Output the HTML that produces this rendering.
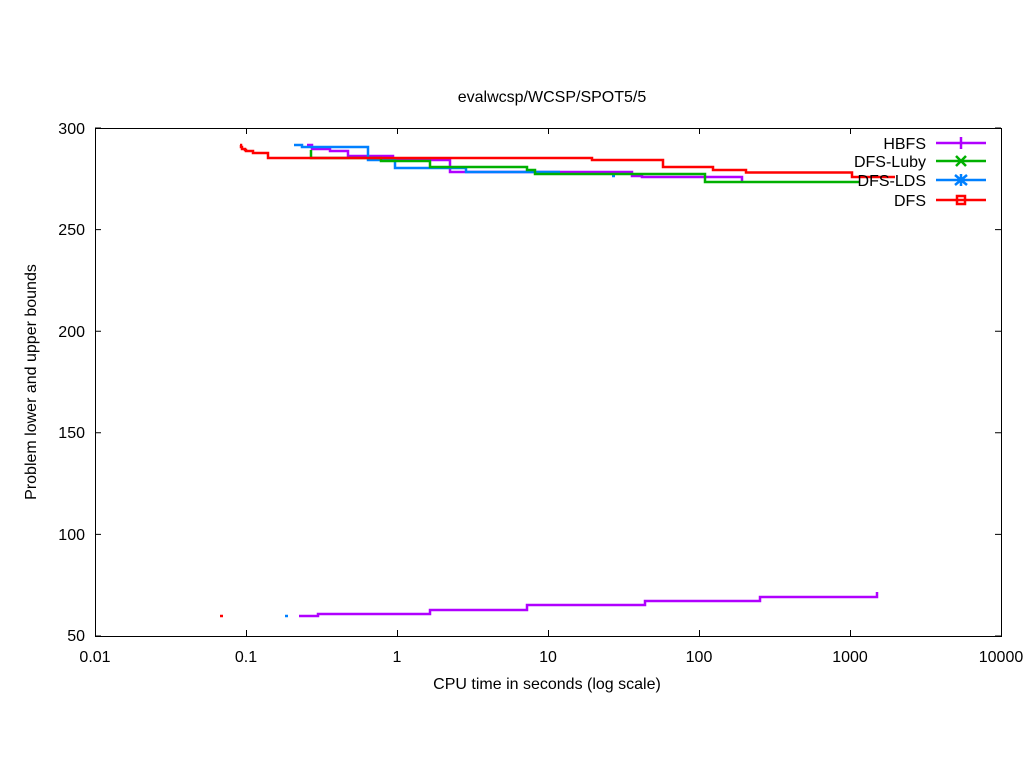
<!DOCTYPE html>
<html><head><meta charset="utf-8"><style>body{margin:0;background:#fff}svg{display:block}text{font-family:"Liberation Sans",sans-serif;font-size:16px;fill:#000}</style></head><body>
<svg width="1024" height="768" viewBox="0 0 1024 768">
<rect width="1024" height="768" fill="#fff"/>
<g stroke="#000" stroke-width="1" fill="none">
<rect x="95.5" y="128.5" width="906" height="508"/>
<path d="M95 636h6M1001 636h-6M95 534.4h6M1001 534.4h-6M95 432.8h6M1001 432.8h-6M95 331.2h6M1001 331.2h-6M95 229.6h6M1001 229.6h-6M95 128h6M1001 128h-6
M95.5 636v-6M95.5 128v6M246.5 636v-6M246.5 128v6M397.5 636v-6M397.5 128v6M548.5 636v-6M548.5 128v6M699.5 636v-6M699.5 128v6M850.5 636v-6M850.5 128v6M1001.5 636v-6M1001.5 128v6"/>
</g>
<g text-anchor="end">
<text x="85" y="641">50</text><text x="85" y="540">100</text><text x="85" y="438">150</text><text x="85" y="337">200</text><text x="85" y="235">250</text><text x="85" y="134">300</text>
</g>
<g text-anchor="middle">
<text x="95" y="662">0.01</text><text x="246" y="662">0.1</text><text x="397" y="662">1</text><text x="548" y="662">10</text><text x="699" y="662">100</text><text x="850" y="662">1000</text><text x="1001" y="662">10000</text>
<text x="552" y="102">evalwcsp/WCSP/SPOT5/5</text>
<text x="547" y="689">CPU time in seconds (log scale)</text>
<text transform="translate(36,382) rotate(-90)">Problem lower and upper bounds</text>
</g>
<g fill="none" stroke-width="2.5">
<path stroke="#b000ff" d="M307 145H312V149H330V151H348V156H393V160H450V172H632V176H642V177H707V177H742V181"/>
<path stroke="#b000ff" d="M299 616H318V614H430V610H527V605H645V601H760V597H877V592"/>
<path stroke="#0080ff" d="M294 145H302V147H368V160H395V168H466V172H560M612 176h3"/>
<path stroke="#00b000" d="M311 150V158H381V161H430V167H527V170H535V174H705V182H860"/>
<path stroke="#ff0000" d="M240 145H241V147H242V149H245V150H246V151H253V153H268V155H268V158H592V160H663V167H713V170H746V172.5H852V177H895"/>
<path stroke="#ff0000" d="M220 616h3"/><path stroke="#0080ff" d="M285 616h3"/>
</g>
<g text-anchor="end">
<text x="926" y="149">HBFS</text><text x="926" y="167">DFS-Luby</text><text x="926" y="186">DFS-LDS</text><text x="926" y="206">DFS</text>
</g>
<g stroke-width="2.5" fill="none">
<path stroke="#b000ff" d="M936 143h50M961 137v12"/>
<path stroke="#00b000" d="M936 161h50M956 156l10 10M966 156l-10 10"/>
<path stroke="#0080ff" d="M936 180h50M955 175l12 10M967 175l-12 10M961 174v12"/>
<path stroke="#ff0000" d="M936 200h50"/><rect x="957" y="196" width="8" height="8" stroke="#ff0000"/>
</g>
</svg>
</body></html>
